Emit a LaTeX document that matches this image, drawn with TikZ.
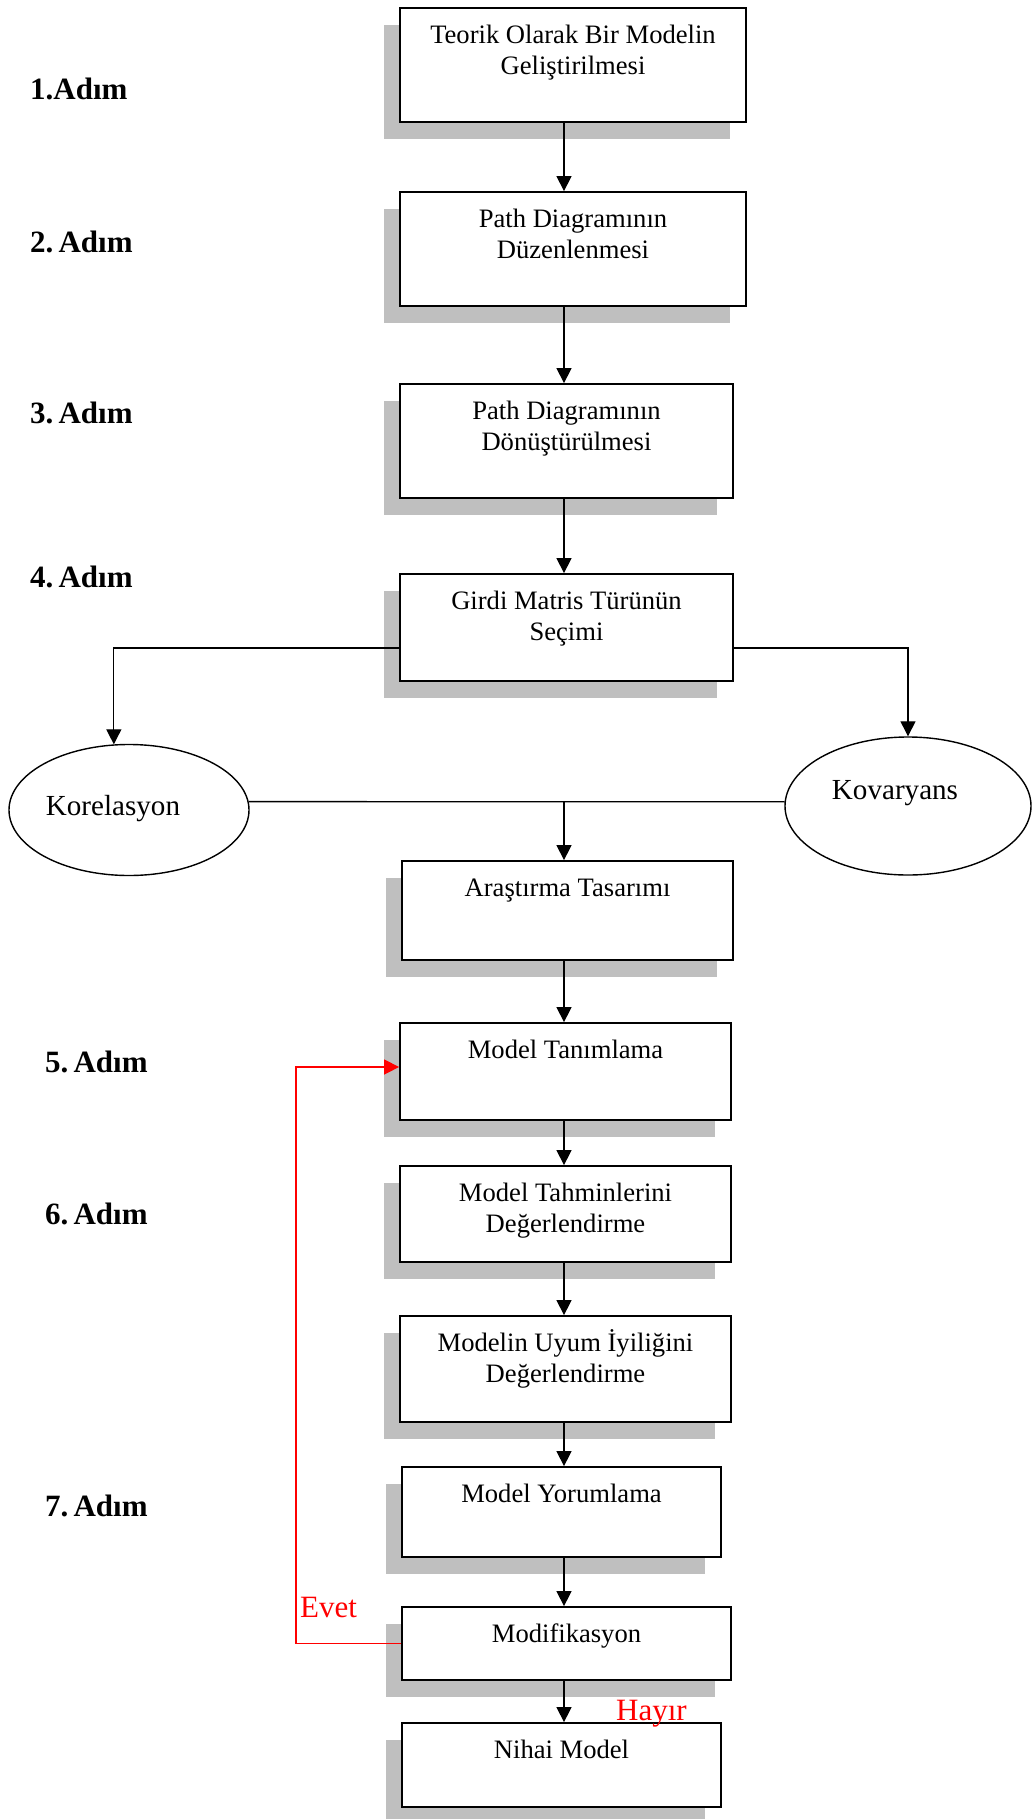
\documentclass[tikz,border=0pt]{standalone}
\usepackage{fontspec}
\setmainfont{Liberation Serif}
\usetikzlibrary{arrows.meta,shapes.geometric,shadows}
\definecolor{shadowgray}{RGB}{191,191,191}
% fixed height for the first line of every box text
\newcommand\firstline{\rule{0pt}{24pt}}

\begin{document}
\begin{tikzpicture}[x=1pt,y=-1pt,
  stepbox/.style={draw, line width=1.8pt, fill=white, inner sep=0pt,
    drop shadow={shadow xshift=-16pt, shadow yshift=-17pt, fill=shadowgray, opacity=1}},
  boxtext/.style={anchor=north, yshift=-12pt, align=center, inner sep=0pt,
    font=\fontsize{26.6}{31}\selectfont},
  choice/.style={draw, ellipse, line width=1.4pt, fill=white, inner sep=0pt},
  etext/.style={anchor=base, inner sep=0pt, font=\fontsize{29.1}{34}\selectfont},
  steplabel/.style={anchor=base west, inner sep=0pt, font=\fontsize{31}{36}\selectfont\bfseries},
  flow/.style={line width=1.3pt, -{Triangle[length=15pt,width=15pt]}},
  link/.style={line width=1.3pt},
  back/.style={red, line width=1.5pt, -{Triangle[length=15pt,width=15pt]}},
  answer/.style={red, anchor=base west, inner sep=0pt, font=\fontsize{31}{36}\selectfont}]

\useasboundingbox (0,0) rectangle (1031,1819);

% step labels
\node[steplabel] (s1) at (30,100) {1.Adım};
\node[steplabel] (s2) at (30,253) {2.\,Adım};
\node[steplabel] (s3) at (30,423) {3.\,Adım};
\node[steplabel] (s4) at (30,587) {4.\,Adım};
\node[steplabel] (s5) at (45,1072) {5.\,Adım};
\node[steplabel] (s6) at (45,1224) {6.\,Adım};
\node[steplabel] (s7) at (45,1516) {7.\,Adım};

% process boxes
\node[stepbox, minimum width=346pt, minimum height=114pt,
  label={[boxtext]north:{\firstline Teorik Olarak Bir Modelin\\Geliştirilmesi}}] (b1) at (573,65) {};
\node[stepbox, minimum width=346pt, minimum height=114pt,
  label={[boxtext]north:{\firstline Path Diagramının\\Düzenlenmesi}}] (b2) at (573,249) {};
\node[stepbox, minimum width=333pt, minimum height=114pt,
  label={[boxtext]north:{\firstline Path Diagramının\\Dönüştürülmesi}}] (b3) at (566.5,441) {};
\node[stepbox, minimum width=333pt, minimum height=107pt,
  label={[boxtext]north:{\firstline Girdi Matris Türünün\\Seçimi}}] (b4) at (566.5,627.5) {};
\node[stepbox, minimum width=331pt, minimum height=99pt,
  label={[boxtext]north:{\firstline Araştırma Tasarımı}}] (b5) at (567.5,910.5) {};
\node[stepbox, minimum width=331pt, minimum height=97pt,
  label={[boxtext]north:{\firstline Model Tanımlama}}] (b6) at (565.5,1071.5) {};
\node[stepbox, minimum width=331pt, minimum height=96pt,
  label={[boxtext]north:{\firstline Model Tahminlerini\\Değerlendirme}}] (b7) at (565.5,1214) {};
\node[stepbox, minimum width=331pt, minimum height=106pt,
  label={[boxtext]north:{\firstline Modelin Uyum İyiliğini\\Değerlendirme}}] (b8) at (565.5,1369) {};
\node[stepbox, minimum width=319pt, minimum height=90pt,
  label={[boxtext]north:{\firstline Model Yorumlama}}] (b9) at (561.5,1512) {};
\node[stepbox, minimum width=329pt, minimum height=73pt,
  label={[boxtext]north:{\firstline Modifikasyon}}] (b10) at (566.5,1643.5) {};
\node[stepbox, minimum width=319pt, minimum height=84pt,
  label={[boxtext]north:{\firstline Nihai Model}}] (b11) at (561.5,1765) {};

% matrix type choices
\node[choice, minimum width=240pt, minimum height=131pt,
  label={[etext, xshift=-16pt, yshift=1pt]center:Korelasyon}] (kor) at (129,810) {};
\node[choice, minimum width=246pt, minimum height=138pt,
  label={[etext, xshift=-13pt, yshift=13pt]center:Kovaryans}] (kov) at (908,806) {};

% main flow
\coordinate (ax) at (564,0);
\draw[flow] (ax |- b1.south) -- (ax |- b2.north);
\draw[flow] (ax |- b2.south) -- (ax |- b3.north);
\draw[flow] (ax |- b3.south) -- (ax |- b4.north);
\draw[flow] ([yshift=-20.5pt]b4.west) -| (kor.103);
\draw[flow] ([yshift=-20.5pt]b4.east) -| (kov.north);
\draw[link] (kor.4) -- (kov.178.6);
\coordinate (j) at (564,802);
\draw[flow] (j) -- (ax |- b5.north);
\draw[flow] (ax |- b5.south) -- (ax |- b6.north);
\draw[flow] (ax |- b6.south) -- (ax |- b7.north);
\draw[flow] (ax |- b7.south) -- (ax |- b8.north);
\draw[flow] (ax |- b8.south) -- (ax |- b9.north);
\draw[flow] (ax |- b9.south) -- (ax |- b10.north);
\draw[flow] (ax |- b10.south) -- (ax |- b11.north);

% modification loop
\coordinate (rx) at (296,0);
\draw[back] (b10.west) -- (b10.west -| rx) |- ([yshift=4.5pt]b6.west);
\node[answer] (yes) at (300,1617) {Evet};
\node[answer] (no) at (616,1720) {Hayır};
\end{tikzpicture}
\end{document}
